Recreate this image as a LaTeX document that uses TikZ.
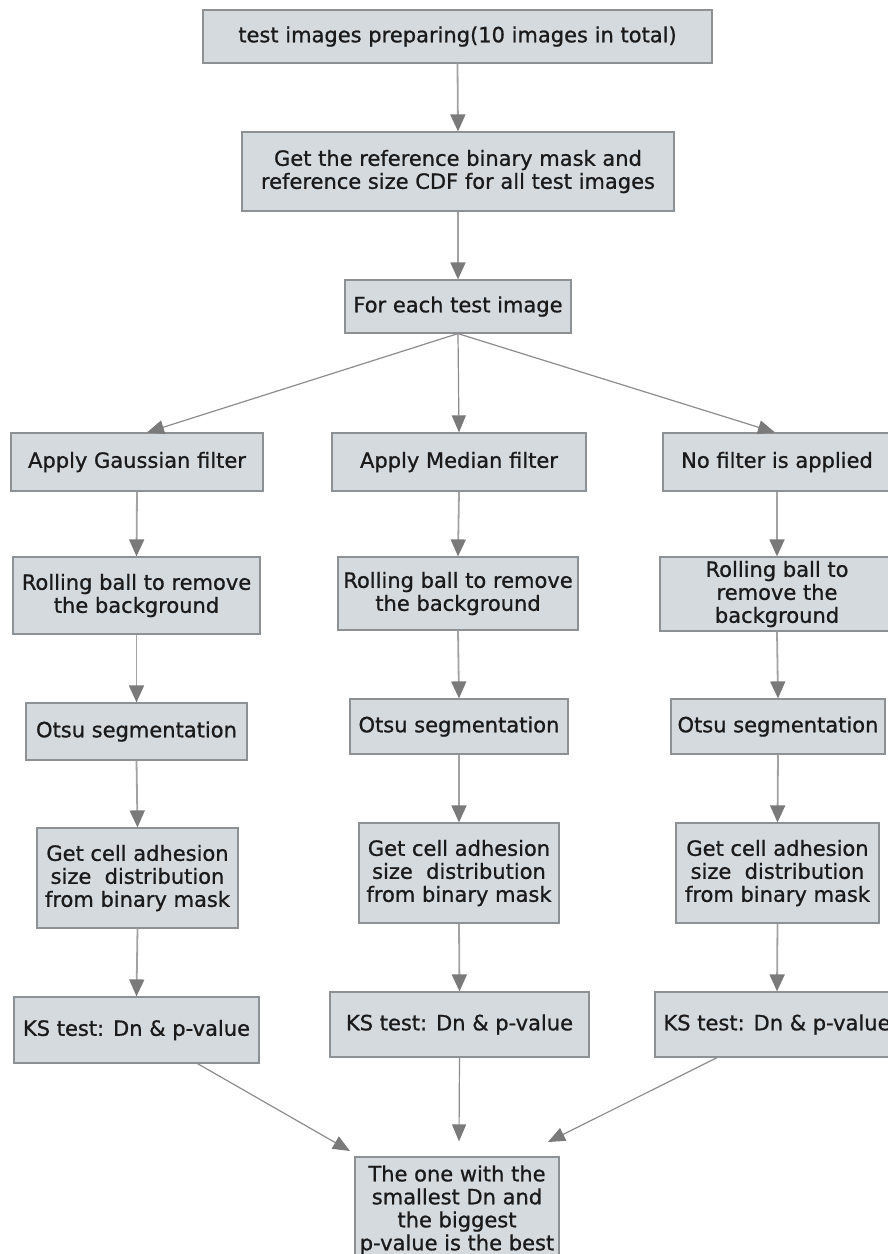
\documentclass[tikz,border=0pt]{standalone}
\usepackage{fontspec}
\setmainfont{DejaVu Sans}
\newfontfamily\boxfont[FakeBold=0.9]{DejaVu Sans}
\usetikzlibrary{arrows.meta,calc}

\definecolor{boxfill}{HTML}{D5DADF}
\definecolor{boxline}{HTML}{8E9194}
\definecolor{arrline}{HTML}{A3A3A3}
\definecolor{fanline}{HTML}{8C8C8C}
\definecolor{arrhead}{HTML}{7A7A7A}
\definecolor{txt}{HTML}{1A1A1A}

\begin{document}
\begin{tikzpicture}[x=1pt,y=-1pt,
  stepbox/.style={draw=boxline, line width=1.2pt, fill=boxfill, text=txt,
    align=center, inner sep=0pt, font=\boxfont\fontsize{21}{23}\selectfont},
  arr/.style={draw=arrline, line width=1.8pt,
    -{Triangle[length=17pt,width=15pt,color=arrhead,fill=arrhead]}},
  thinarr/.style={draw=fanline, line width=1.2pt,
    -{Triangle[length=17pt,width=14pt,color=arrhead,fill=arrhead]}}]

\useasboundingbox (0,0) rectangle (888,1254);

% top chain
\node[stepbox, minimum width=509pt, minimum height=53pt] (prep) at (457.5,36.5)
  {test images preparing(10 images in total)};
\node[stepbox, minimum width=432pt, minimum height=79pt] (ref) at (458,171.5)
  {Get the reference binary mask and\\reference size CDF for all test images};
\node[stepbox, minimum width=226pt, minimum height=53pt] (each) at (458,306.5)
  {For each test image};

% Gaussian column
\node[stepbox, minimum width=252pt, minimum height=58pt] (ga) at (137,462)
  {Apply Gaussian filter};
\node[stepbox, minimum width=247pt, minimum height=77pt] (gb) at (136.5,595.5)
  {Rolling ball to remove\\the background};
\node[stepbox, minimum width=221pt, minimum height=57pt] (gc) at (136.5,731.5)
  {Otsu segmentation};
\node[stepbox, minimum width=201pt, minimum height=100pt] (gd) at (137.5,878)
  {Get cell adhesion\\size~ distribution\\from binary mask};
\node[stepbox, minimum width=245pt, minimum height=66pt] (ge) at (136.5,1030)
  {KS test: Dn \& p-value};

% Median column
\node[stepbox, minimum width=254pt, minimum height=58pt] (ma) at (459,462)
  {Apply Median filter};
\node[stepbox, minimum width=240pt, minimum height=73pt] (mb) at (458,593.5)
  {Rolling ball to remove\\the background};
\node[stepbox, minimum width=218pt, minimum height=55pt] (mc) at (459,726.5)
  {Otsu segmentation};
\node[stepbox, minimum width=200pt, minimum height=100pt] (md) at (459,873)
  {Get cell adhesion\\size~ distribution\\from binary mask};
\node[stepbox, minimum width=259pt, minimum height=65pt] (me) at (459.5,1024.5)
  {KS test: Dn \& p-value};

% unfiltered column
\node[stepbox, minimum width=228pt, minimum height=58pt] (na) at (777,462)
  {No filter is applied};
\node[stepbox, minimum width=234pt, minimum height=74pt] (nb) at (777,594)
  {Rolling ball to\\remove the\\background};
\node[stepbox, minimum width=214pt, minimum height=55pt] (nc) at (778,726.5)
  {Otsu segmentation};
\node[stepbox, minimum width=203pt, minimum height=100pt] (nd) at (777.5,873)
  {Get cell adhesion\\size~ distribution\\from binary mask};
\node[stepbox, minimum width=244pt, minimum height=65pt] (ne) at (777,1024.5)
  {KS test: Dn \& p-value};

% final decision
\node[stepbox, minimum width=204pt, minimum height=106pt] (best) at (457,1210)
  {The one with the\\smallest Dn and\\the biggest\\p-value is the best};

% connectors
\draw[arr] (prep.south) -- (ref.north);
\draw[arr] (ref.south) -- (each.north);

\draw[thinarr] (each.south) -- ($(ga.north)+(10,0)$);
\draw[thinarr] (each.south) -- (ma.north);
\draw[thinarr] (each.south) -- ($(na.north)+(-2,0)$);

\foreach \c in {g,m,n}{
  \draw[arr] (\c a.south) -- (\c b.north);
  \draw[arr] (\c b.south) -- (\c c.north);
  \draw[arr] (\c c.south) -- (\c d.north);
  \draw[arr] (\c d.south) -- (\c e.north);
}

\coordinate (tipl) at (350,1151);
\coordinate (tipr) at (548,1142);
\draw[thinarr] ($(ge.south)+(61,0)$) -- (tipl);
\draw[thinarr] (me.south) -- ($(best.north)+(2,-15)$);
\draw[thinarr] ($(ne.south)+(-60,0)$) -- (tipr);

\end{tikzpicture}
\end{document}
